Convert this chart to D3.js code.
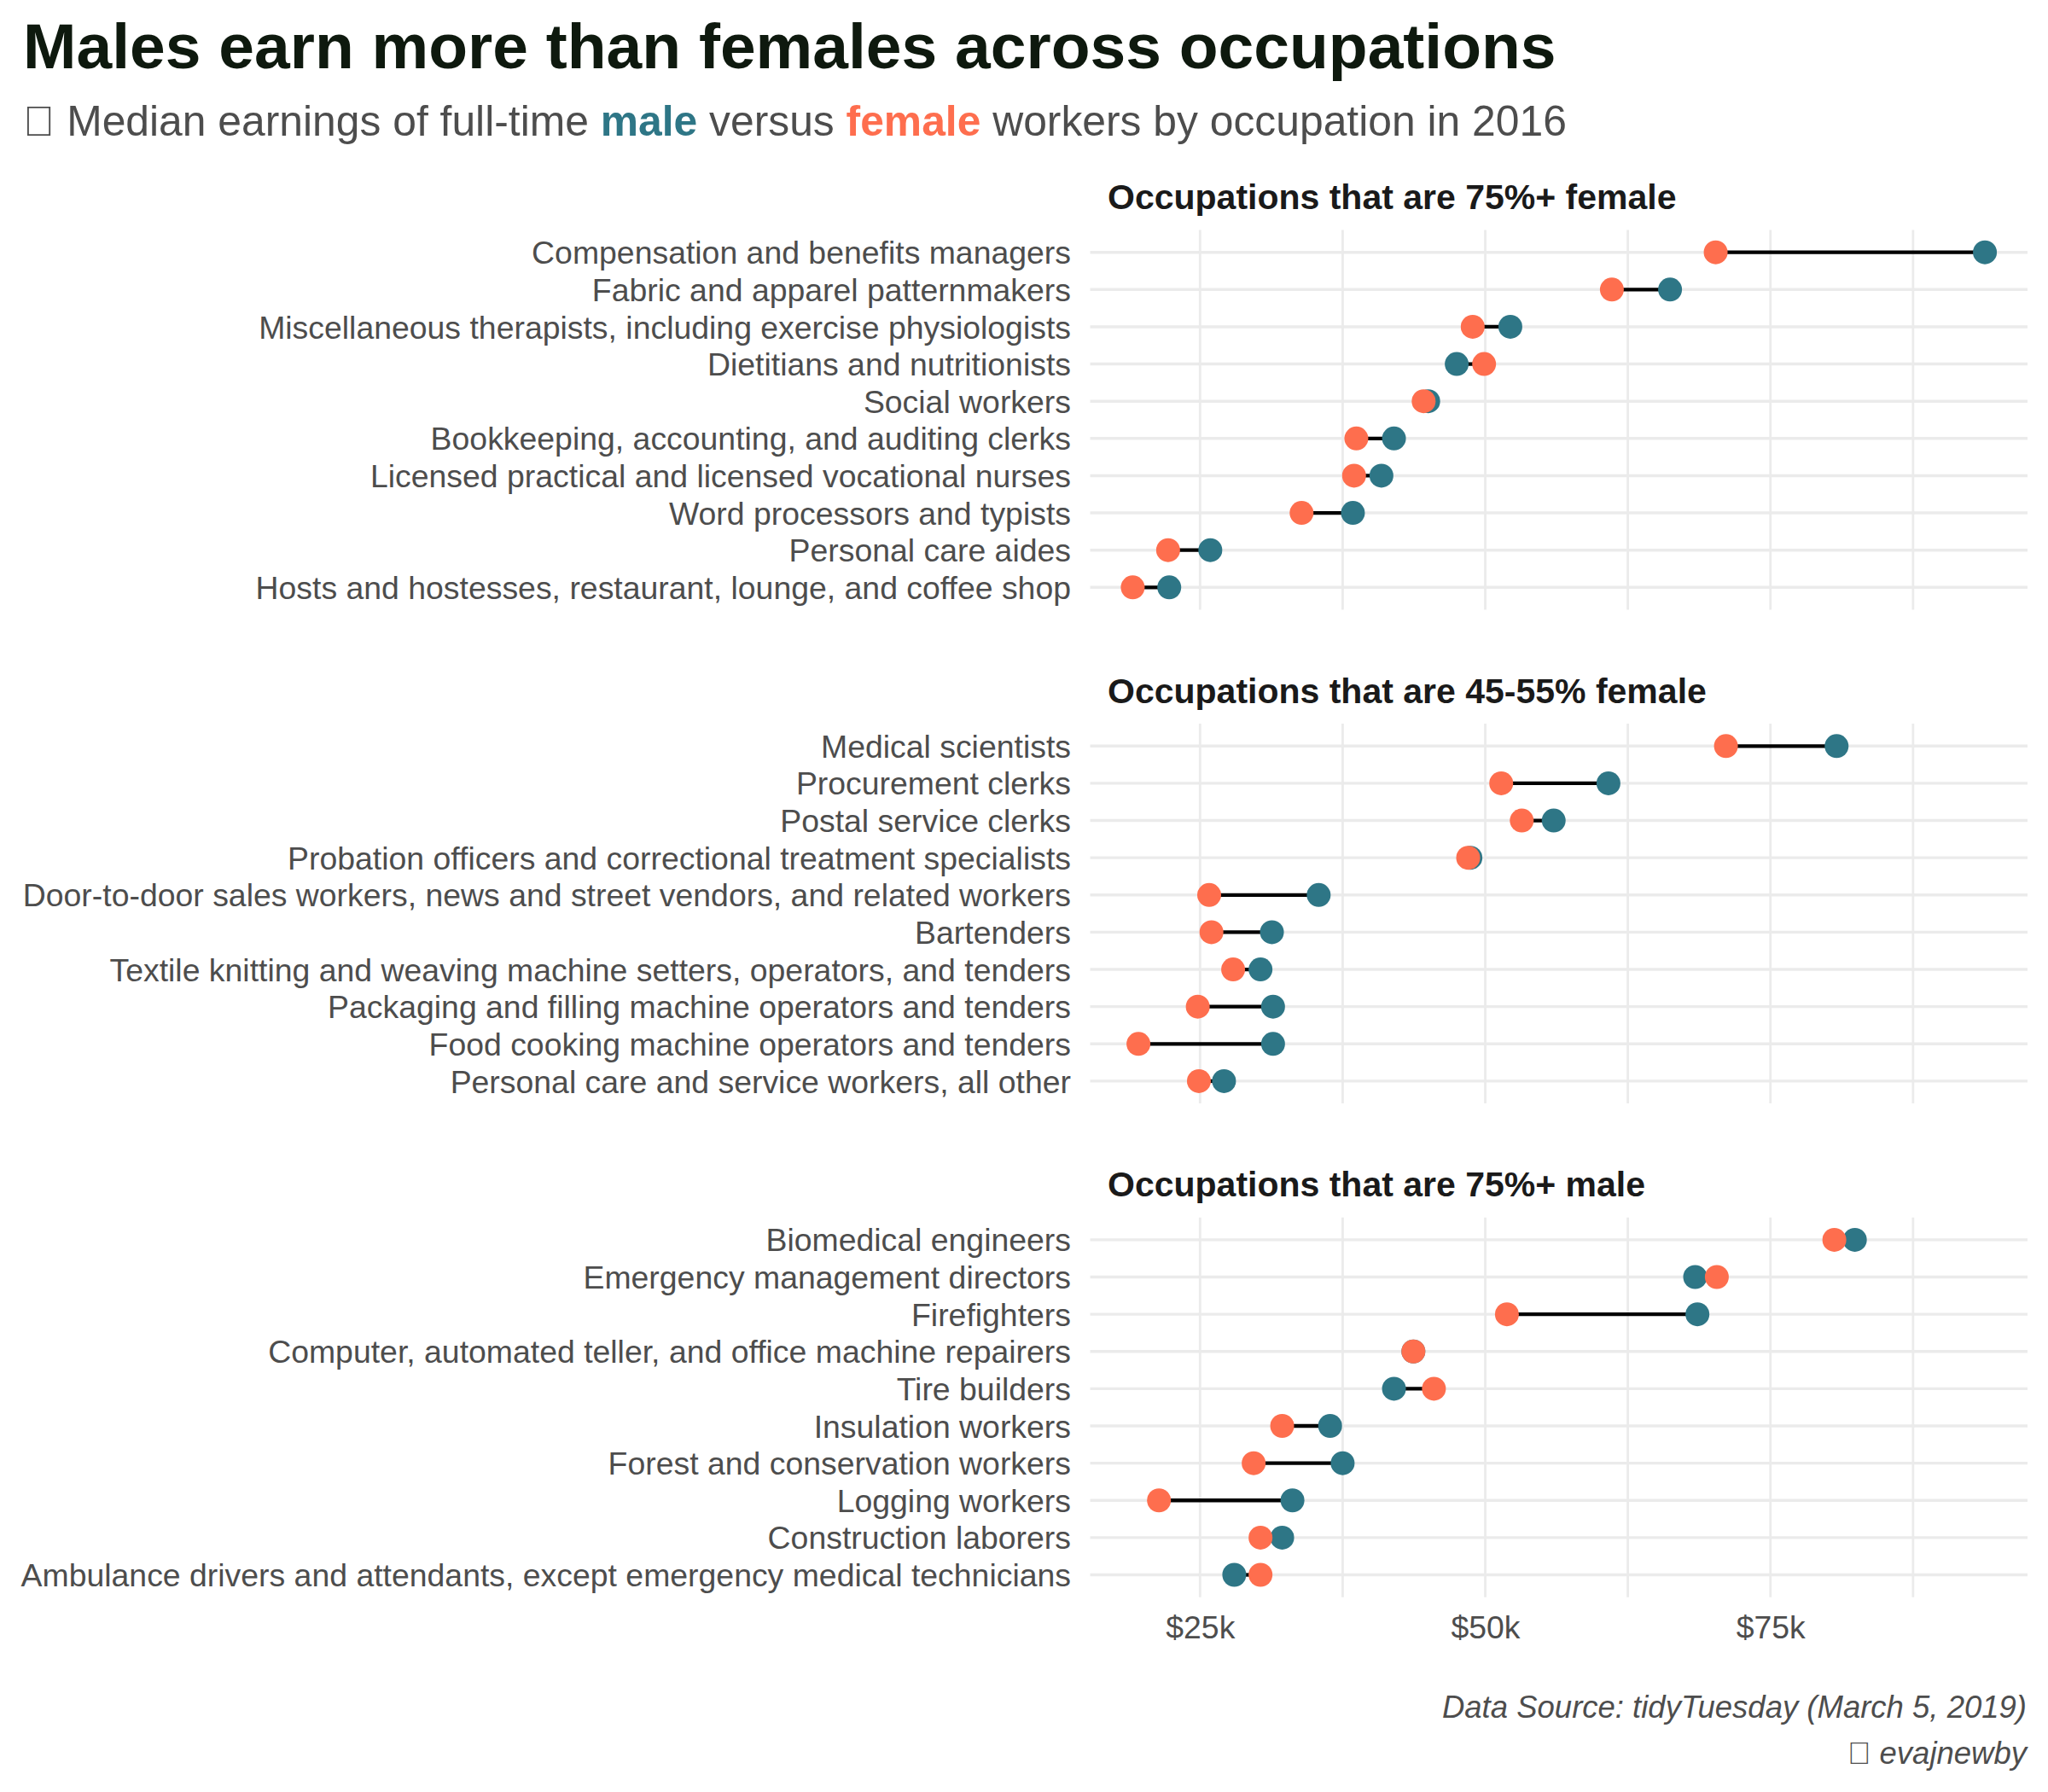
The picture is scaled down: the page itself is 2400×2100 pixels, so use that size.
<!DOCTYPE html>
<html>
<head>
<meta charset="utf-8">
<script src="https://cdn.jsdelivr.net/npm/d3@7"></script>
<style>
  body { margin: 0; background: #fff; }
  svg { font-family: "Liberation Sans", Arial, sans-serif; }
</style>
</head>
<body>
<div id="container"></div>
<script>
/* ---------------- DATA ---------------- */
const panelTitles = [
  "Occupations that are 75%+ female",
  "Occupations that are 45-55% female",
  "Occupations that are 75%+ male"
];

const femaleMajorityJobs = [
  "Compensation and benefits managers",
  "Fabric and apparel patternmakers",
  "Miscellaneous therapists, including exercise physiologists",
  "Dietitians and nutritionists",
  "Social workers",
  "Bookkeeping, accounting, and auditing clerks",
  "Licensed practical and licensed vocational nurses",
  "Word processors and typists",
  "Personal care aides",
  "Hosts and hostesses, restaurant, lounge, and coffee shop"
];
const femaleMajorityMale   = [93.8, 66.2, 52.2, 47.5, 45.0, 42.0, 40.9, 38.4, 25.9, 22.3];
const femaleMajorityFemale = [70.2, 61.1, 48.9, 49.9, 44.6, 38.7, 38.5, 33.9, 22.2, 19.1];

const balancedJobs = [
  "Medical scientists",
  "Procurement clerks",
  "Postal service clerks",
  "Probation officers and correctional treatment specialists",
  "Door-to-door sales workers, news and street vendors, and related workers",
  "Bartenders",
  "Textile knitting and weaving machine setters, operators, and tenders",
  "Packaging and filling machine operators and tenders",
  "Food cooking machine operators and tenders",
  "Personal care and service workers, all other"
];
const balancedMale   = [80.8, 60.8, 56.0, 48.7, 35.4, 31.3, 30.3, 31.4, 31.4, 27.1];
const balancedFemale = [71.1, 51.4, 53.2, 48.5, 25.8, 26.0, 27.9, 24.8, 19.6, 24.9];

const maleMajorityJobs = [
  "Biomedical engineers",
  "Emergency management directors",
  "Firefighters",
  "Computer, automated teller, and office machine repairers",
  "Tire builders",
  "Insulation workers",
  "Forest and conservation workers",
  "Logging workers",
  "Construction laborers",
  "Ambulance drivers and attendants, except emergency medical technicians"
];
const maleMajorityMale   = [82.4, 68.4, 68.6, 43.7, 42.0, 36.4, 37.5, 33.1, 32.2, 28.0];
const maleMajorityFemale = [80.6, 70.3, 51.9, 43.7, 45.5, 32.2, 29.7, 21.4, 30.3, 30.3];

const xTicks = [25, 50, 75];
const xMinor = [37.5, 62.5, 87.5];

/* ---------------- SETUP ---------------- */
const W = 2400, H = 2100;
const maleCol = "#2e7686", femaleCol = "#fe6e4e";
const labelCol = "#4d4d4d";
const axisSize = 37.4;

const panels = [
  { title: panelTitles[0], jobs: femaleMajorityJobs, male: femaleMajorityMale, female: femaleMajorityFemale },
  { title: panelTitles[1], jobs: balancedJobs, male: balancedMale, female: balancedFemale },
  { title: panelTitles[2], jobs: maleMajorityJobs, male: maleMajorityMale, female: maleMajorityFemale }
];

const svg = d3.select("#container").append("svg")
  .attr("width", W)
  .attr("height", H);

// shared x scale with ggplot-like 5% expansion
const allVals = panels.flatMap(p => p.male.concat(p.female));
const [lo, hi] = d3.extent(allVals);
const pad = (hi - lo) * 0.05;
const x = d3.scaleLinear()
  .domain([lo - pad, hi + pad])
  .range([1277.5, 2376]);

const panelTop = 269.5, panelH = 445, panelStep = 578.6;

/* ---------------- TITLES ---------------- */
svg.append("text")
  .attr("x", 27)
  .attr("y", 80)
  .attr("font-size", 75)
  .attr("font-weight", "bold")
  .attr("fill", "#0e190e")
  .text("Males earn more than females across occupations");

const sub = svg.append("text")
  .attr("x", 27)
  .attr("y", 159)
  .attr("font-size", 49.8)
  .attr("fill", labelCol);
sub.append("tspan").text("\uf080 Median earnings of full-time ");
sub.append("tspan").attr("font-weight", "bold").attr("fill", maleCol).text("male");
sub.append("tspan").text(" versus ");
sub.append("tspan").attr("font-weight", "bold").attr("fill", femaleCol).text("female");
sub.append("tspan").text(" workers by occupation in 2016");

/* ---------------- PANELS ---------------- */
panels.forEach((p, k) => {
  const top = panelTop + k * panelStep;
  const y = d3.scalePoint()
    .domain(p.jobs)
    .range([top, top + panelH])
    .padding(0.6);

  const g = svg.append("g");

  // horizontal grid
  g.selectAll("line.hgrid")
    .data(p.jobs)
    .enter().append("line")
    .attr("x1", x.range()[0])
    .attr("x2", x.range()[1])
    .attr("y1", d => y(d))
    .attr("y2", d => y(d))
    .attr("stroke", "#ebebeb")
    .attr("stroke-width", 3.4);

  // vertical grid
  g.selectAll("line.vgrid")
    .data(xTicks.concat(xMinor))
    .enter().append("line")
    .attr("x1", d => x(d))
    .attr("x2", d => x(d))
    .attr("y1", top)
    .attr("y2", top + panelH)
    .attr("stroke", "#ebebeb")
    .attr("stroke-width", 2.8);

  svg.append("text")
    .attr("x", 1298)
    .attr("y", top - 24.5)
    .attr("font-size", 41)
    .attr("font-weight", "bold")
    .attr("fill", "#1a1a1a")
    .text(p.title);

  const yAxis = svg.append("g")
    .attr("transform", `translate(${x.range()[0]},0)`)
    .call(d3.axisLeft(y).tickSize(0).tickPadding(22.5));
  yAxis.select(".domain").remove();
  yAxis.selectAll("text")
    .attr("font-size", axisSize)
    .attr("font-family", "Liberation Sans, Arial, sans-serif")
    .attr("fill", labelCol)
    .attr("dy", "0.35em");

  const rows = p.jobs.map((j, i) => ({ job: j, m: p.male[i], f: p.female[i] }));

  g.selectAll("line.seg")
    .data(rows)
    .enter().append("line")
    .attr("x1", d => x(d.f))
    .attr("x2", d => x(d.m))
    .attr("y1", d => y(d.job))
    .attr("y2", d => y(d.job))
    .attr("stroke", "#000")
    .attr("stroke-width", 4.3);

  g.selectAll("circle.m")
    .data(rows)
    .enter().append("circle")
    .attr("cx", d => x(d.m))
    .attr("cy", d => y(d.job))
    .attr("r", 14)
    .attr("fill", maleCol);

  g.selectAll("circle.f")
    .data(rows)
    .enter().append("circle")
    .attr("cx", d => x(d.f))
    .attr("cy", d => y(d.job))
    .attr("r", 14)
    .attr("fill", femaleCol);

  if (k === panels.length - 1) {
    const xAxis = svg.append("g")
      .attr("transform", `translate(0,${top + panelH})`)
      .call(d3.axisBottom(x).tickValues(xTicks).tickSize(0).tickPadding(22)
        .tickFormat(d => `$${d}k`));
    xAxis.select(".domain").remove();
    xAxis.selectAll("text")
      .attr("font-size", axisSize)
      .attr("font-family", "Liberation Sans, Arial, sans-serif")
      .attr("fill", labelCol);
  }
});

/* ---------------- CAPTION ---------------- */
svg.append("text")
  .attr("x", 2375)
  .attr("y", 2013)
  .attr("text-anchor", "end")
  .attr("font-size", 36.5)
  .attr("font-style", "italic")
  .attr("fill", labelCol)
  .text("Data Source: tidyTuesday (March 5, 2019)");

const handle = svg.append("text")
  .attr("x", 2375)
  .attr("y", 2067)
  .attr("text-anchor", "end")
  .attr("font-size", 36.5)
  .attr("fill", labelCol);
handle.append("tspan").attr("font-style", "normal").text("\uf080");
handle.append("tspan").attr("font-style", "italic").text(" evajnewby");
</script>
</body>
</html>
